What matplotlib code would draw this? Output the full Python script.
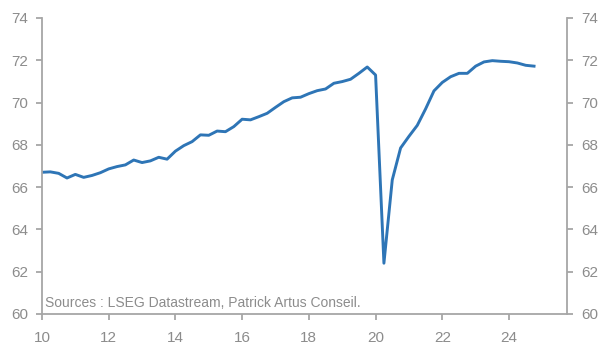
import matplotlib
matplotlib.use("Agg")
import matplotlib.pyplot as plt
import numpy as np

# ── data (quarterly, 2010Q1 .. 2024Q4) ────────────────────────────────────────
start_year = 10
values = [
    66.70, 66.72, 66.65, 66.43,   # 2010
    66.60, 66.46, 66.55, 66.68,   # 2011
    66.86, 66.97, 67.05, 67.28,   # 2012
    67.16, 67.24, 67.41, 67.32,   # 2013
    67.70, 67.96, 68.15, 68.47,   # 2014
    68.45, 68.65, 68.62, 68.86,   # 2015
    69.21, 69.18, 69.33, 69.49,   # 2016
    69.77, 70.04, 70.22, 70.25,   # 2017
    70.42, 70.56, 70.64, 70.91,   # 2018
    70.99, 71.10, 71.38, 71.68,   # 2019
    71.30, 62.40, 66.34, 67.85,   # 2020
    68.40, 68.92, 69.70, 70.55,   # 2021
    70.95, 71.22, 71.38, 71.38,   # 2022
    71.72, 71.92, 71.98, 71.95,   # 2023
    71.93, 71.87, 71.76, 71.72,   # 2024
]
x_ticks = [10, 12, 14, 16, 18, 20, 22, 24]
y_ticks = [60, 62, 64, 66, 68, 70, 72, 74]
source_note = "Sources : LSEG Datastream, Patrick Artus Conseil."

LINE_COLOR = "#2e75b6"
AXIS_COLOR = "#a6a6a6"
TEXT_COLOR = "#8c8c8c"

plt.rcParams["font.family"] = ["Liberation Sans Narrow", "Liberation Sans", "DejaVu Sans"]

x = start_year + np.arange(len(values)) / 4

fig = plt.figure(figsize=(6.11, 3.45), dpi=100)
ax = fig.add_axes([0.0687, 0.090, 0.8594, 0.858])

ax.plot(x, values, color=LINE_COLOR, linewidth=2.1, solid_joinstyle="round")

ax.set_xlim(10, 25.74)
ax.set_ylim(60, 74)
ax.set_xticks(x_ticks)
ax.set_yticks(y_ticks)

ax.spines["top"].set_visible(False)
for side in ("left", "right", "bottom"):
    ax.spines[side].set_color(AXIS_COLOR)
    ax.spines[side].set_linewidth(1.3)

ax.tick_params(axis="both", colors=AXIS_COLOR, labelcolor=TEXT_COLOR,
               labelsize=11, length=4, width=1.3, direction="out")
ax.tick_params(axis="y", left=True, right=True, labelleft=True, labelright=True, pad=6)
ax.tick_params(axis="x", pad=8)

ax.text(0.005, 0.015, source_note, transform=ax.transAxes, ha="left", va="bottom",
        fontsize=10, color=TEXT_COLOR)

fig.savefig("out.png", dpi=100)
